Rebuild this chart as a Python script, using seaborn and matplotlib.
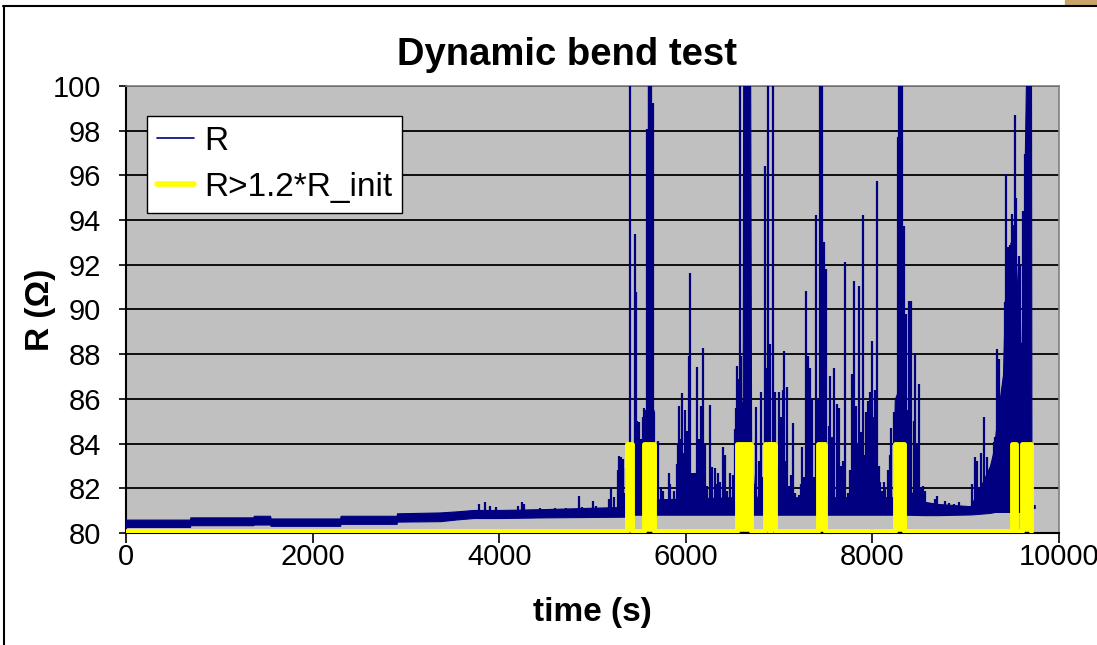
import numpy as np
import pandas as pd
import matplotlib
matplotlib.use("Agg")
import matplotlib.pyplot as plt
import seaborn as sns
from matplotlib.lines import Line2D
from matplotlib.patches import Rectangle

# Noise band of the R trace (time, lower edge, upper edge)
band_t = [0, 686, 690, 1365, 1370, 1544, 1550, 2295, 2300, 2900, 2905, 3367, 3550, 3725,
          4010, 4493, 5351, 5390, 5555, 5560, 5655, 5665, 6500, 6550, 6610, 6615, 6690,
          6700, 6730, 6760, 8220, 8240, 8340, 8360, 8550, 8700, 9050, 9150, 9260, 9300,
          9340, 9400, 9420, 9480, 9540, 9580, 9600, 9625, 9645, 9700, 9705, 9740]
band_lo = [80.27, 80.27, 80.35, 80.35, 80.38, 80.38, 80.32, 80.32, 80.41, 80.41, 80.51, 80.53,
           80.61, 80.67, 80.67, 80.70, 80.73, 80.82, 80.82, 80.82, 80.82, 80.82, 80.82, 80.82,
           80.82, 80.82, 80.82, 80.82, 80.82, 80.82, 80.82, 80.82, 80.82, 80.82, 80.80, 80.80,
           80.83, 80.86, 80.90, 80.93, 81.0, 81.05, 81.05, 81.05, 81.05, 81.05, 81.05, 81.05,
           81.05, 81.05, 81.12, 81.12]
band_hi = [80.6, 80.6, 80.7, 80.7, 80.77, 80.77, 80.65, 80.65, 80.77, 80.77, 80.88, 80.92,
           80.97, 81.03, 81.03, 81.07, 81.17, 81.5, 81.5, 85.5, 85.5, 81.5, 81.6, 84.5,
           86.0, 100, 100, 84.0, 82.0, 81.6, 81.6, 86.0, 87.0, 82.0, 81.4, 81.3,
           81.2, 82.0, 83.0, 83.7, 85.2, 87.1, 90.4, 93.0, 92.0, 88.5, 88.5, 94.4,
           100, 100, 81.25, 81.25]

# Spikes of the R trace (time, peak value)
spike_t = [3785, 3843, 3905, 3970, 4200, 4243, 4265, 4440, 4600, 4720, 4850, 4890, 5004, 5040,
           5172, 5197, 5226, 5272, 5286, 5300, 5310, 5322, 5340, 5361, 5397, 5451, 5465, 5480,
           5501, 5520, 5540, 5555, 5583, 5601, 5610, 5616, 5626, 5647, 5662, 5701, 5737, 5760,
           5780, 5815, 5834, 5870, 5905, 5918, 5930, 5945, 5959, 5972, 5987, 6012, 6030, 6048,
           6066, 6084, 6102, 6119, 6144, 6160, 6180, 6202, 6227, 6255, 6280, 6309, 6323, 6345,
           6370, 6394, 6423, 6441, 6477, 6502, 6523, 6535, 6548, 6565, 6584, 6595, 6705, 6730,
           6755, 6780, 6805, 6830, 6852, 6870, 6881, 6898, 6915, 6934, 6952, 6977, 7002, 7020,
           7041, 7056, 7070, 7084, 7102, 7125, 7149, 7174, 7209, 7230, 7245, 7270, 7292, 7310,
           7334, 7352, 7377, 7399, 7420, 7435, 7449, 7460, 7484, 7506, 7531, 7549, 7570, 7592,
           7620, 7642, 7660, 7674, 7690, 7710, 7739, 7763, 7781, 7799, 7824, 7846, 7860, 7881,
           7903, 7918, 7931, 7953, 7977, 7995, 8010, 8024, 8049, 8067, 8085, 8105, 8121, 8138,
           8167, 8185, 8202, 8227, 8253, 8271, 8289, 8303, 8317, 8335, 8360, 8375, 8388, 8400,
           8417, 8442, 8460, 8478, 8496, 8517, 8539, 8567, 8621, 8675, 8693, 8782, 8818, 8871,
           8925, 9032, 9068, 9096, 9122, 9140, 9168, 9200, 9229, 9264, 9299, 9317, 9338, 9353,
           9372, 9390, 9407, 9418, 9436, 9454, 9468, 9479, 9497, 9514, 9525, 9543, 9568, 9586,
           9597, 9615, 9632]
spike_v = [81.3, 81.37, 81.22, 81.15, 81.22, 81.4, 81.28, 81.12, 81.1, 81.12, 81.67, 81.15, 81.45, 81.2,
           81.52, 82.04, 81.6, 82.8, 83.46, 83.3, 83.4, 83.3, 81.8, 82.9, 100, 93.4, 90.77, 85.0,
           84.98, 84.2, 85.2, 85.6, 98.08, 100, 100, 100, 100, 99.25, 85.4, 84.13, 82.0, 81.9,
           81.5, 82.7, 82.2, 81.9, 83.1, 84.0, 85.66, 84.2, 86.28, 83.6, 85.5, 84.58, 87.93, 91.62,
           82.7, 82.7, 82.7, 87.41, 84.2, 85.7, 88.26, 84.0, 82.1, 85.73, 82.95, 82.9, 82.2, 82.7,
           82.3, 83.83, 83.5, 81.9, 82.7, 82.6, 84.65, 85.6, 87.45, 86.9, 100, 87.93, 83.5, 82.2,
           85.62, 83.2, 86.29, 82.5, 96.44, 87.4, 100, 88.46, 83.0, 100, 86.3, 83.0, 86.3, 85.2,
           86.4, 88.16, 83.2, 86.52, 82.1, 82.6, 84.9, 81.8, 81.7, 82.2, 83.86, 82.5, 90.84, 87.93,
           87.4, 86.0, 82.5, 94.23, 86.0, 100, 100, 100, 93.0, 91.81, 84.8, 87.04, 84.3, 87.4,
           85.77, 85.6, 83.0, 82.0, 83.2, 92.11, 81.8, 82.8, 87.11, 91.29, 85.7, 84.0, 91.07, 84.5,
           94.23, 83.5, 85.4, 85.9, 86.3, 88.6, 85.2, 86.4, 95.73, 83.0, 82.3, 81.9, 82.3, 82.0,
           82.8, 83.5, 84.7, 85.4, 84.3, 97.73, 100, 100, 100, 93.75, 89.8, 85.5, 90.39, 86.0,
           90.39, 85.0, 88.0, 84.0, 86.67, 82.0, 82.1, 81.9, 81.35, 81.5, 81.67, 81.45, 81.35, 81.3,
           81.4, 81.2, 82.19, 83.38, 83.2, 82.0, 83.6, 85.17, 83.4, 82.0, 84.06, 84.3, 88.23, 87.8,
           84.8, 85.5, 86.6, 90.32, 96.06, 92.78, 91.0, 92.9, 94.27, 93.8, 98.7, 95.0, 92.41, 92.0,
           87.5, 94.4, 96.96]

# R > 1.2*R_init flag: low/high levels and the intervals where it is high
flag_low, flag_high = 80.07, 84.0
flag_end = 9705
pulse_start = [5369, 5555, 6552, 6852, 6905, 7413, 8246, 9497, 9605]
pulse_end = [5422, 5662, 6699, 6898, 6959, 7492, 8339, 9543, 9705]

navy = "#000080"
yellow = "#FFFF00"

sns.set_theme(style="white")
plt.rcParams["font.family"] = ["Liberation Sans", "DejaVu Sans"]
plt.rcParams["text.color"] = "black"
plt.rcParams["xtick.color"] = "black"
plt.rcParams["ytick.color"] = "black"
plt.rcParams["axes.labelcolor"] = "black"

fig = plt.figure(figsize=(10.97, 6.45), dpi=100)
ax = fig.add_axes([126 / 1097, 112 / 645, 933 / 1097, 447 / 645])
ax.set_facecolor("#C0C0C0")

# R trace
ax.fill_between(band_t, band_lo, band_hi, color=navy, lw=0.8, zorder=3)
ax.vlines(spike_t, 80.9, spike_v, color=navy, lw=1.6, zorder=3)

# flag trace as a step line built from the pulse intervals
flag = [(0, flag_low)]
for s, e in zip(pulse_start, pulse_end):
    flag += [(s, flag_low), (s, flag_high), (e, flag_high), (e, flag_low)]
flag.append((flag_end, flag_low))
flag_df = pd.DataFrame(flag, columns=["t", "v"])
sns.lineplot(data=flag_df, x="t", y="v", sort=False, estimator=None,
             color=yellow, lw=3.5, ax=ax, zorder=4)
for s, e in zip(pulse_start, pulse_end):
    ax.fill_between([s, e], flag_low, flag_high, color=yellow, lw=0, zorder=4)

ax.set_xlim(0, 10000)
ax.set_ylim(80, 100)
ax.set_xticks(np.arange(0, 10001, 2000))
ax.set_yticks(np.arange(80, 101, 2))
ax.set_xlabel("")
ax.set_ylabel("")
ax.yaxis.grid(True, color="black", lw=1.3)
ax.set_axisbelow(True)
ax.tick_params(axis="y", direction="out", length=5, width=1.2, pad=13,
               labelsize=21, left=True, color="black", labelcolor="black")
ax.tick_params(axis="x", direction="out", length=7, width=1.2, pad=0,
               labelsize=21, bottom=True, color="black", labelcolor="black")
for side in ["left", "bottom"]:
    ax.spines[side].set_color("black")
    ax.spines[side].set_linewidth(1.5)
for side in ["top", "right"]:
    ax.spines[side].set_color("#808080")
    ax.spines[side].set_linewidth(1.2)

handles = [Line2D([], [], color=navy, lw=1.2), Line2D([], [], color=yellow, lw=4)]
leg = ax.legend(handles, ["R", "R>1.2*R_init"], loc="upper left",
                bbox_to_anchor=(0.023, 0.934), borderaxespad=0, fontsize=24,
                handlelength=1.1, handletextpad=0.3, labelspacing=0.45,
                borderpad=0.3, fancybox=False, framealpha=1)
leg.get_frame().set_edgecolor("black")
leg.get_frame().set_linewidth(1.0)
for txt in leg.get_texts():
    txt.set_color("black")

fig.text(567 / 1097, 1 - 55 / 645, "Dynamic bend test", ha="center", va="center",
         fontsize=27.5, fontweight="bold", color="black")
fig.text(592 / 1097, 1 - 613 / 645, "time (s)", ha="center", va="center",
         fontsize=24, fontweight="bold", color="black")
fig.text(40 / 1097, 1 - 310 / 645, "R (Ω)", ha="center", va="center",
         rotation=90, fontsize=24, fontweight="bold", color="black")

# chart-area border and the bit of picture at the top right
fig.add_artist(Line2D([3 / 1097, 1], [1 - 6 / 645, 1 - 6 / 645], color="black", lw=1.5))
fig.add_artist(Line2D([4 / 1097, 4 / 1097], [0, 1 - 6 / 645], color="black", lw=1.5))
fig.add_artist(Rectangle((1065 / 1097, 1 - 4 / 645), 32 / 1097, 4 / 645,
                         color="#C9A46A", transform=fig.transFigure))

fig.savefig("out.png", dpi=100)
